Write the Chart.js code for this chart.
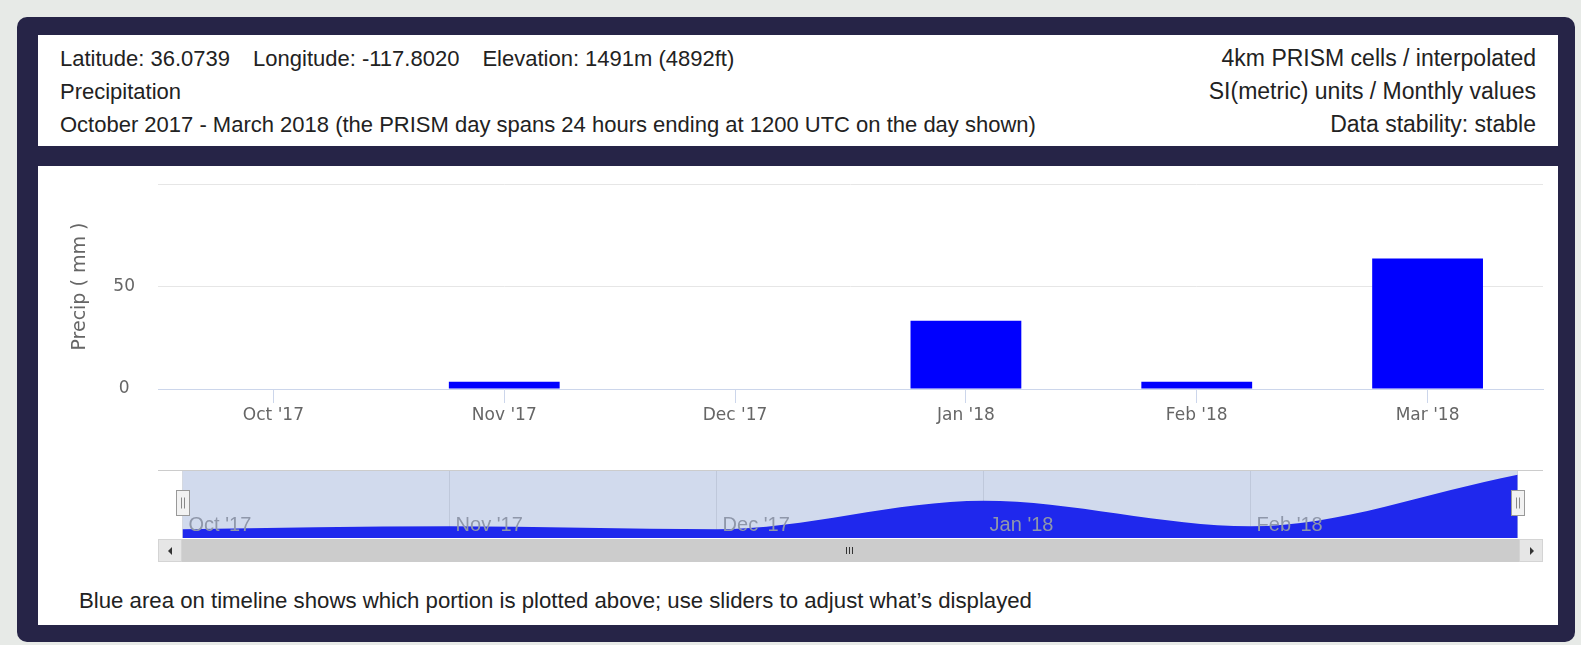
<!DOCTYPE html>
<html>
<head>
<meta charset="utf-8">
<script src="https://cdn.jsdelivr.net/npm/chart.js@4.4.1/dist/chart.umd.min.js"></script>
<style>
  html, body { margin: 0; padding: 0; }
  body { width: 1581px; height: 645px; background: #e7eae7; position: relative; overflow: hidden;
         font-family: "Liberation Sans", Arial, sans-serif; color: #222; }
  #frame { position: absolute; left: 17px; top: 17px; width: 1558px; height: 625px; background: #262447; border-radius: 10px; }
  #head { position: absolute; left: 38px; top: 35px; width: 1520px; height: 111px; background: #fff; font-size: 22px; line-height: 33px; }
  #head .l { position: absolute; left: 22px; top: 7px; }
  #head .r { position: absolute; right: 22px; top: 7px; text-align: right; font-size: 23px; }
  #head .gap { display: inline-block; width: 23px; }
  #box { position: absolute; left: 38px; top: 166px; width: 1520px; height: 459px; background: #fff; }
  #mainWrap { position: absolute; left: 38px; top: 151px; width: 1520px; height: 285px; }
  #navWrap { position: absolute; left: 158px; top: 471px; width: 1385px; height: 67px; }
  #navTop { position: absolute; left: 158px; top: 470px; width: 1385px; height: 1px; background: #cccccc; }
  #scroll { position: absolute; left: 158px; top: 539px; width: 1385px; height: 23px; background: #cccccc; }
  .btn { position: absolute; top: 0; width: 24px; height: 23px; background: #e6e6e6; border: 1px solid #d4d4d4; box-sizing: border-box; }
  .btn.l { left: 0; } .btn.r { right: 0; }
  .arr { position: absolute; top: 7px; width: 0; height: 0; border-top: 4px solid transparent; border-bottom: 4px solid transparent; }
  .btn.l .arr { left: 9px; border-right: 4px solid #333; }
  .btn.r .arr { left: 10px; border-left: 4px solid #333; }
  .grip { position: absolute; top: 8px; width: 1px; height: 7px; background: #333; }
  #foot { position: absolute; left: 79px; top: 586px; font-size: 22.2px; line-height: 30px; }
</style>
</head>
<body>
<div id="frame"></div>
<div id="head">
  <div class="l">Latitude: 36.0739<span class="gap"></span>Longitude: -117.8020<span class="gap"></span>Elevation: 1491m (4892ft)<br>Precipitation<br>October 2017 - March 2018 (the PRISM day spans 24 hours ending at 1200 UTC on the day shown)</div>
  <div class="r">4km PRISM cells / interpolated<br>SI(metric) units / Monthly values<br>Data stability: stable</div>
</div>
<div id="box"></div>
<div id="mainWrap"><canvas id="mainChart"></canvas></div>
<div id="navTop"></div>
<div id="navWrap"><canvas id="navChart"></canvas></div>
<div id="scroll">
  <div class="btn l"><div class="arr"></div></div>
  <div class="btn r"><div class="arr"></div></div>
  <div class="grip" style="left:688px"></div>
  <div class="grip" style="left:691px"></div>
  <div class="grip" style="left:694px"></div>
</div>
<div id="foot">Blue area on timeline shows which portion is plotted above; use sliders to adjust what’s displayed</div>

<script>
// monthly precipitation
const months = ["Oct '17", "Nov '17", "Dec '17", "Jan '18", "Feb '18", "Mar '18"];
const precip = [0, 3.5, 0, 33.3, 3.5, 63.7];
const yMax = 100;
const yStep = 50;

const labelFont = { family: 'DejaVu Sans', size: 17 };

new Chart(document.getElementById('mainChart'), {
    type: 'bar',
    data: {
        labels: months,
        datasets: [{
            data: precip,
            backgroundColor: '#0000ff',
            borderWidth: 0,
            categoryPercentage: 1,
            barPercentage: 0.48
        }]
    },
    options: {
        responsive: true,
        maintainAspectRatio: false,
        animation: false,
        layout: { padding: { top: 0, right: 15, left: 0, bottom: 0 } },
        plugins: { legend: { display: false }, tooltip: { enabled: false } },
        scales: {
            x: {
                grid: { offset: false, drawOnChartArea: false, tickLength: 14, color: '#ccd6eb' },
                border: { color: '#ccd6eb' },
                ticks: { padding: 2, color: '#666', font: labelFont, maxRotation: 0 },
                afterFit: function (s) { s.height = 47; }
            },
            y: {
                min: 0,
                max: yMax,
                ticks: {
                    stepSize: yStep,
                    crossAlign: 'center',
                    padding: 23,
                    color: '#666',
                    font: labelFont,
                    callback: function (v) { return v === yMax ? '' : v; } // top label hidden
                },
                grid: { color: '#e6e6e6', drawTicks: false },
                border: { display: false },
                title: {
                    display: true,
                    text: 'Precip ( mm )',
                    color: '#666',
                    font: { family: 'DejaVu Sans', size: 19 },
                    padding: { top: 31, bottom: 0 }
                },
                afterFit: function (s) { s.width = 120; }
            }
        }
    }
});

// navigator: selected range mask + slider handles
const navMask = {
    id: 'navMask',
    afterDatasetsDraw(chart) {
        const { ctx, chartArea, scales } = chart;
        const x0 = scales.x.getPixelForValue(0);
        const x1 = scales.x.getPixelForValue(months.length - 1);
        ctx.save();
        ctx.fillStyle = 'rgba(102,133,194,0.3)';
        ctx.fillRect(x0, chartArea.top, x1 - x0, chartArea.bottom - chartArea.top);
        [x0, x1].forEach(function (x) {
            const hx = Math.round(x) - 6.5, hy = 19.5;
            ctx.fillStyle = '#f2f2f2';
            ctx.strokeStyle = '#999';
            ctx.lineWidth = 1;
            ctx.fillRect(hx, hy, 13, 25);
            ctx.strokeRect(hx, hy, 13, 25);
            ctx.beginPath();
            ctx.moveTo(hx + 5, hy + 7); ctx.lineTo(hx + 5, hy + 18);
            ctx.moveTo(hx + 8, hy + 7); ctx.lineTo(hx + 8, hy + 18);
            ctx.strokeStyle = '#888';
            ctx.stroke();
        });
        ctx.restore();
    }
};

new Chart(document.getElementById('navChart'), {
    type: 'line',
    data: {
        datasets: [{
            data: precip.map(function (v, i) { return { x: i, y: v }; }),
            fill: 'start',
            backgroundColor: '#0000ff',
            borderWidth: 0,
            pointRadius: 0,
            cubicInterpolationMode: 'monotone'
        }]
    },
    options: {
        responsive: true,
        maintainAspectRatio: false,
        animation: false,
        layout: { padding: 0 },
        plugins: { legend: { display: false }, tooltip: { enabled: false } },
        scales: {
            x: {
                type: 'linear',
                min: -0.092,
                max: 5.095,
                grid: { drawTicks: false, color: '#e6e6e6' },
                border: { display: false },
                ticks: {
                    stepSize: 1,
                    includeBounds: false,
                    align: 'start',
                    mirror: true, // labels sit inside the navigator, no clipping
                    labelOffset: 6,
                    padding: 1,
                    z: 1,
                    color: '#8f97aa',
                    font: { family: 'Liberation Sans', size: 20 },
                    maxRotation: 0,
                    autoSkip: false,
                    callback: function (v) { return v < months.length - 1 ? months[v] : ''; }
                },
                afterFit: function (s) { s.height = 0; }
            },
            y: { display: false, min: -10.2, max: 68 }
        }
    },
    plugins: [navMask]
});
</script>
</body>
</html>
